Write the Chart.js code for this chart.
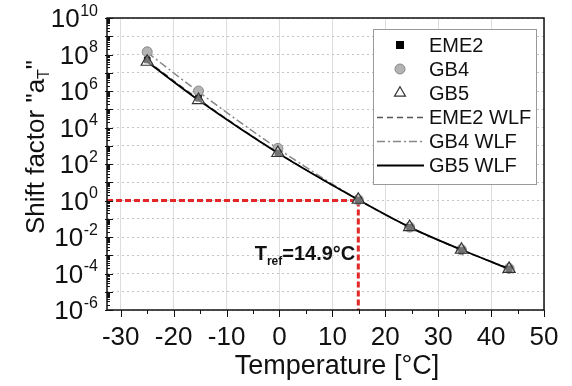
<!DOCTYPE html>
<html>
<head>
<meta charset="utf-8">
<script src="https://cdn.jsdelivr.net/npm/chart.js@4.4.0/dist/chart.umd.min.js"></script>
<style>
  html, body { margin: 0; padding: 0; background: #fff; }
  #wrap { width: 572px; height: 386px; }
</style>
</head>
<body>
<div id="wrap"><canvas id="shiftChart" width="572" height="386"></canvas></div>
<script>
// measurement temperatures, °C
var temps = [-25, -15.3, -0.3, 14.9, 24.6, 34.4, 43.4];

// measured shift factors
var eme2 = [5.0e7, 4.0e5, 4.0e2, 1.07, 3.4e-2, 1.9e-3, 1.8e-4];
var gb4  = [1.4e8, 1.0e6, 7.2e2, 1.1, 3.5e-2, 2.0e-3, 1.9e-4];
var gb5  = [4.0e7, 3.2e5, 4.0e2, 1.1, 3.5e-2, 2.0e-3, 1.8e-4];

// WLF fit curves
var eme2Wlf = [4.6e7, 3.6e5, 4.2e2, 1.08, 3.4e-2, 1.95e-3, 1.8e-4];
var gb4Wlf  = [1.3e8, 9.0e5, 7.0e2, 1.1, 3.5e-2, 2.0e-3, 1.9e-4];
var gb5Wlf  = [4.0e7, 3.2e5, 4.0e2, 1.1, 3.5e-2, 2.0e-3, 1.8e-4];

var tRef = 14.9;
var xMin = -32.6, xMax = 50;
var xTicks = [-30, -25, -20, -15, -10, -5, 0, 5, 10, 15, 20, 25, 30, 35, 40, 45, 50];
var yDecades = [-6, -5, -4, -3, -2, -1, 0, 1, 2, 3, 4, 5, 6, 7, 8, 9, 10];
var yLabelExps = [-6, -4, -2, 0, 2, 4, 6, 8, 10];

var FONT = 'Liberation Sans, Arial, sans-serif';
var RED = '#e32626';

function pts(ys) {
    return temps.map(function (t, i) { return { x: t, y: ys[i] }; });
}

// tick marks, frame, superscript labels, titles, legend
var decor = {
    id: 'decor',
    afterDraw: function (chart) {
        var ctx = chart.ctx, a = chart.chartArea;
        var xs = chart.scales.x, ys = chart.scales.y;
        ctx.save();
        ctx.strokeStyle = '#111';
        ctx.lineWidth = 1;
        ctx.beginPath();
        // log minor ticks on the y axis, pointing inward
        yDecades.forEach(function (e) {
            for (var m = 1; m <= 9; m++) {
                if (e === 10 && m > 1) break;
                var py = Math.round(ys.getPixelForValue(m * Math.pow(10, e))) + 0.5;
                var len = m === 1 ? 6 : 3;
                ctx.moveTo(a.left - (m === 1 ? 2 : 0), py);
                ctx.lineTo(a.left + len, py);
            }
        });
        // x ticks, pointing outward
        xTicks.forEach(function (v) {
            var px = Math.round(xs.getPixelForValue(v)) + 0.5;
            ctx.moveTo(px, a.bottom);
            ctx.lineTo(px, a.bottom + (v % 10 === 0 ? 7 : 4));
        });
        ctx.stroke();

        ctx.lineWidth = 1.5;
        ctx.strokeRect(a.left, a.top, a.right - a.left, a.bottom - a.top);

        // 10^n labels
        ctx.fillStyle = '#111';
        ctx.textBaseline = 'alphabetic';
        yLabelExps.forEach(function (e) {
            var py = ys.getPixelForValue(Math.pow(10, e));
            var right = 98;
            ctx.font = '16px ' + FONT;
            var ew = ctx.measureText(String(e)).width;
            ctx.textAlign = 'left';
            ctx.fillText(String(e), right - ew, py - 2.5);
            ctx.font = '26px ' + FONT;
            ctx.textAlign = 'right';
            ctx.fillText('10', right - ew - 0.5, py + 9.3);
        });

        // axis titles
        ctx.font = '27px ' + FONT;
        ctx.textAlign = 'center';
        ctx.fillText('Temperature [°C]', 337, 374);

        ctx.save();
        ctx.translate(44, 147);
        ctx.rotate(-Math.PI / 2);
        var big = '26px ' + FONT, small = '16px ' + FONT;
        ctx.font = big;
        var w1 = ctx.measureText('Shift factor "a').width;
        var w3 = ctx.measureText('"').width;
        ctx.font = small;
        var w2 = ctx.measureText('T').width;
        var x0 = -(w1 + w2 + w3) / 2;
        ctx.textAlign = 'left';
        ctx.font = big;
        ctx.fillText('Shift factor "a', x0, 0);
        ctx.font = small;
        ctx.fillText('T', x0 + w1, 5);
        ctx.font = big;
        ctx.fillText('"', x0 + w1 + w2, 0);
        ctx.restore();

        // reference temperature note
        var bx = xs.getPixelForValue(tRef) - 3;
        var by = 260;
        var b20 = 'bold 20px ' + FONT, b12 = 'bold 12px ' + FONT;
        ctx.font = b20;
        var wT = ctx.measureText('T').width;
        var wEq = ctx.measureText('=' + tRef + '°C').width;
        ctx.font = b12;
        var wRef = ctx.measureText('ref').width;
        var sx = bx - (wT + wRef + wEq);
        ctx.textAlign = 'left';
        ctx.font = b20;
        ctx.fillText('T', sx, by);
        ctx.font = b12;
        ctx.fillText('ref', sx + wT, by + 5);
        ctx.font = b20;
        ctx.fillText('=' + tRef + '°C', sx + wT + wRef, by);

        // legend
        var lx = 373, ly = 29, lw = 163, lh = 155;
        ctx.fillStyle = '#fff';
        ctx.fillRect(lx, ly, lw, lh);
        ctx.strokeStyle = '#999';
        ctx.lineWidth = 1;
        ctx.strokeRect(lx + 0.5, ly + 0.5, lw, lh);
        var items = chart.data.datasets.filter(function (d) { return d.inLegend; });
        items.forEach(function (d, i) {
            var cy = 45 + i * 24;
            var cx = 400;
            ctx.save();
            if (d.showLine === false) {
                ctx.fillStyle = d.backgroundColor;
                ctx.strokeStyle = d.borderColor;
                ctx.lineWidth = d.borderWidth;
                ctx.beginPath();
                if (d.pointStyle === 'rect') {
                    ctx.rect(cx - 4, cy - 4, 8, 8);
                    ctx.fill();
                } else if (d.pointStyle === 'circle') {
                    ctx.arc(cx, cy, 5, 0, Math.PI * 2);
                    ctx.fill();
                    ctx.stroke();
                } else {
                    var r = 6.3;
                    ctx.moveTo(cx, cy - r);
                    ctx.lineTo(cx + r * 0.866, cy + r * 0.5);
                    ctx.lineTo(cx - r * 0.866, cy + r * 0.5);
                    ctx.closePath();
                    ctx.stroke();
                }
            } else {
                ctx.strokeStyle = d.borderColor;
                ctx.lineWidth = d.borderWidth;
                ctx.setLineDash(d.borderDash || []);
                ctx.beginPath();
                ctx.moveTo(377, cy + 0.5);
                ctx.lineTo(424, cy + 0.5);
                ctx.stroke();
            }
            ctx.restore();
            ctx.fillStyle = '#111';
            ctx.font = '20px ' + FONT;
            ctx.textAlign = 'left';
            ctx.textBaseline = 'middle';
            ctx.fillText(d.label, 429, cy + 1);
        });
        ctx.restore();
    }
};

Chart.defaults.font.family = FONT;

new Chart(document.getElementById('shiftChart'), {
    type: 'scatter',
    data: {
        datasets: [{
            label: 'EME2', inLegend: true, data: pts(eme2), showLine: false,
            pointStyle: 'rect', pointRadius: 4, backgroundColor: '#000', borderColor: '#000', borderWidth: 1,
            order: 3
        }, {
            label: 'GB4', inLegend: true, data: pts(gb4), showLine: false,
            pointStyle: 'circle', pointRadius: 5, backgroundColor: '#b3b3b3', borderColor: '#8a8a8a', borderWidth: 1,
            order: 4
        }, {
            label: 'GB5', inLegend: true, data: pts(gb5), showLine: false,
            pointStyle: 'triangle', pointRadius: 7, backgroundColor: 'rgba(255,255,255,0.45)', borderColor: '#333', borderWidth: 1.2,
            order: 1
        }, {
            label: 'EME2 WLF', inLegend: true, data: pts(eme2Wlf), showLine: true,
            borderColor: '#555', borderWidth: 1.3, borderDash: [6, 4], pointRadius: 0,
            cubicInterpolationMode: 'monotone', order: 6
        }, {
            label: 'GB4 WLF', inLegend: true, data: pts(gb4Wlf), showLine: true,
            borderColor: '#888', borderWidth: 1.5, borderDash: [8, 3, 2, 3], pointRadius: 0,
            cubicInterpolationMode: 'monotone', order: 5
        }, {
            label: 'GB5 WLF', inLegend: true, data: pts(gb5Wlf), showLine: true,
            borderColor: '#000', borderWidth: 1.8, pointRadius: 0,
            cubicInterpolationMode: 'monotone', order: 2
        }, {
            label: 'ref-h', data: [{ x: xMin, y: 1 }, { x: tRef, y: 1 }], showLine: true,
            borderColor: RED, borderWidth: 3, borderDash: [6, 3], pointRadius: 0, order: 9
        }, {
            label: 'ref-v', data: [{ x: tRef, y: 1 }, { x: tRef, y: 1e-6 }], showLine: true,
            borderColor: RED, borderWidth: 3, borderDash: [6, 3], pointRadius: 0, order: 9
        }]
    },
    options: {
        responsive: false,
        animation: false,
        devicePixelRatio: 1,
        layout: { padding: { top: 18, right: 28, left: 0, bottom: 0 } },
        plugins: { legend: { display: false }, tooltip: { enabled: false } },
        scales: {
            x: {
                type: 'linear', min: xMin, max: xMax,
                afterBuildTicks: function (s) { s.ticks = xTicks.map(function (v) { return { value: v }; }); },
                afterFit: function (s) { s.height = 76; },
                grid: {
                    drawTicks: false,
                    color: function (c) { return c.tick && c.tick.value % 10 === 0 ? '#dddddd' : 'rgba(0,0,0,0)'; }
                },
                border: { display: false },
                ticks: {
                    autoSkip: false, maxRotation: 0, padding: 12,
                    color: '#111', font: { size: 26 },
                    callback: function (v) { return v % 10 === 0 ? String(v) : ''; }
                }
            },
            y: {
                type: 'logarithmic', min: 1e-6, max: 1e10,
                afterBuildTicks: function (s) {
                    s.ticks = yDecades.map(function (e) { return { value: Math.pow(10, e) }; });
                },
                afterFit: function (s) { s.width = 107; },
                grid: { drawTicks: false, color: '#c4c4c4' },
                border: { display: false, dash: [2, 3] },
                ticks: { display: false }
            }
        }
    },
    plugins: [decor]
});
</script>
</body>
</html>
